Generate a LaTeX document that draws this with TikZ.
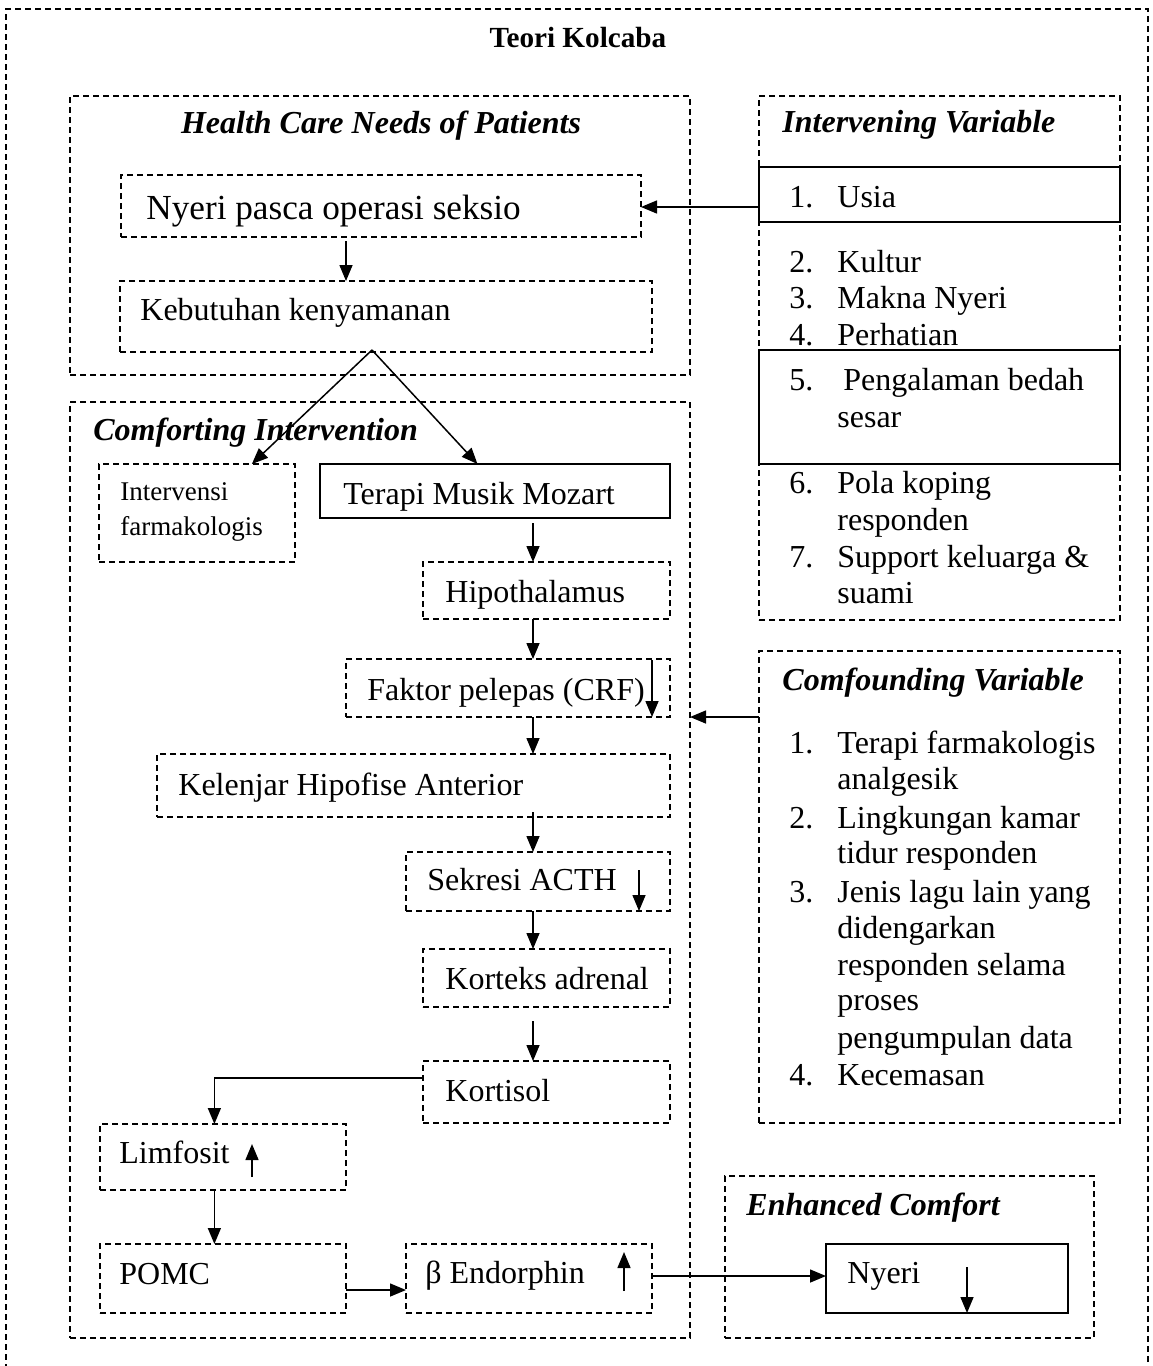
\documentclass[tikz,border=0pt]{standalone}
\usepackage{fontspec}
\setmainfont{Liberation Serif}
\usetikzlibrary{arrows.meta,fit,calc}
\newcommand\bodyfont{\fontsize{16}{18.4}\selectfont}
\newcommand\bigbodyfont{\fontsize{17.6}{20}\selectfont}
\newcommand\smallbodyfont{\fontsize{13.5}{16}\selectfont}
\newcommand\headfont{\fontsize{16}{18.4}\selectfont\bfseries\itshape}
\newcommand\titlefont{\fontsize{14.6}{17}\selectfont\bfseries}
\begin{document}
\begin{tikzpicture}[x=0.5pt,y=-0.5pt,
  dbox/.style={draw, line width=0.7pt, dash pattern=on 3pt off 2pt, inner sep=0pt, outer sep=0pt},
  sbox/.style={draw, line width=1pt, inner sep=0pt, outer sep=0pt},
  txt/.style={anchor=base west, inner sep=0pt, font=\bodyfont},
  hd/.style={anchor=base west, inner sep=0pt, font=\headfont},
  arr/.style={-{Triangle[length=8pt,width=6.5pt]}, line width=0.75pt}]
\useasboundingbox (0,0) rectangle (1152,1366);

% outer frame
\node[dbox, fit={(6,9)(1148,1390)}] (outer) {};
\node[anchor=base, inner sep=0pt, font=\titlefont] (title) at (578,47) {Teori Kolcaba};

% Health care needs
\node[dbox, fit={(70,96)(690,375)}] (hcn) {};
\node[anchor=base, inner sep=0pt, font=\headfont] (hcnh) at (381,133) {Health Care Needs of Patients};
\node[dbox, fit={(121,175)(641,237)}] (nps) {};
\node[txt, font=\bigbodyfont] (npst) at (146,219) {Nyeri pasca operasi seksio};
\node[dbox, fit={(120,281)(652,352)}] (keb) {};
\node[txt] (kebt) at (140,320) {Kebutuhan kenyamanan};
\coordinate (kebapex) at (372,350);

% Intervening variable
\node[dbox, fit={(759,96)(1120,620)}] (iv) {};
\node[hd] (ivh) at (782,132) {Intervening Variable};
\node[sbox, fit={(759,167)(1120,222)}] (usia) {};
\node[sbox, fit={(759,350)(1120,464)}] (peng) {};
\foreach \n/\y [count=\i] in {1./207,2./272,3./308,4./345,5./390,6./493,7./567}
  \node[txt] (ivn\i) at (789,\y) {\n};
\foreach \t/\y [count=\i] in {Usia/207,Kultur/272,Makna Nyeri/308,Perhatian/345,responden/530,Support keluarga \&/567,suami/603,sesar/427,Pola koping/493}
  \node[txt] (ivt\i) at (837,\y) {\t};
\node[txt] (ivt10) at (843,390) {Pengalaman bedah};

% Confounding variable
\node[dbox, fit={(759,651)(1120,1123)}] (cv) {};
\node[hd] (cvh) at (782,690) {Comfounding Variable};
\foreach \n/\y [count=\i] in {1./753,2./828,3./902,4./1085}
  \node[txt] (cvn\i) at (789,\y) {\n};
\foreach \t/\y [count=\i] in {Terapi farmakologis/753,analgesik/789,Lingkungan kamar/828,tidur responden/863,Jenis lagu lain yang/902,didengarkan/938,responden selama/975,proses/1010,pengumpulan data/1048,Kecemasan/1085}
  \node[txt] (cvt\i) at (837,\y) {\t};

% Comforting intervention
\node[dbox, fit={(70,402)(690,1338)}] (ci) {};
\node[hd] (cih) at (93,440) {Comforting Intervention};
\node[dbox, fit={(99,464)(295,562)}] (ifa) {};
\node[txt, font=\smallbodyfont] (ifat1) at (120,500) {Intervensi};
\node[txt, font=\smallbodyfont] (ifat2) at (120,535) {farmakologis};
\node[sbox, fit={(320,464)(670,518)}] (tmm) {};
\node[txt] (tmmt) at (343,504) {Terapi Musik Mozart};
\node[dbox, fit={(423,562)(670,619)}] (hipo) {};
\node[txt] (hipot) at (445,602) {Hipothalamus};
\node[dbox, fit={(346,659)(670,717)}] (crf) {};
\node[txt] (crft) at (367,700) {Faktor pelepas (CRF)};
\node[dbox, fit={(157,754)(670,817)}] (kha) {};
\node[txt] (khat) at (178,795) {Kelenjar Hipofise Anterior};
\node[dbox, fit={(406,852)(670,911)}] (acth) {};
\node[txt] (actht) at (427,890) {Sekresi ACTH};
\node[dbox, fit={(423,949)(670,1007)}] (kort) {};
\node[txt] (kortt) at (445,989) {Korteks adrenal};
\node[dbox, fit={(423,1061)(670,1123)}] (kti) {};
\node[txt] (ktit) at (445,1101) {Kortisol};
\node[dbox, fit={(100,1124)(346,1190)}] (limf) {};
\node[txt] (limft) at (119,1163) {Limfosit};
\node[dbox, fit={(100,1244)(346,1313)}] (pomc) {};
\node[txt] (pomct) at (119,1284) {POMC};
\node[dbox, fit={(406,1244)(652,1313)}] (bend) {};
\node[txt] (bendt) at (425,1283) {β Endorphin};

% Enhanced comfort
\node[dbox, fit={(725,1176)(1094,1338)}] (ec) {};
\node[hd] (ech) at (746,1215) {Enhanced Comfort};
\node[sbox, fit={(826,1244)(1068,1313)}] (ny) {};
\node[txt] (nyt) at (847,1283) {Nyeri};

% spine for the vertical chain
\coordinate (sp) at (533,0);

% connectors
\draw[arr] (usia.west |- 0,207) -- (nps.east |- 0,207);
\draw[arr] (nps.south -| 346,0) ++(0,4) -- (keb.north -| 346,0);
\draw[arr] (kebapex) -- ($(ifa.north west)!0.78!(ifa.north east)$);
\draw[arr] (kebapex) -- ($(tmm.north west)!0.45!(tmm.north east)$);
\draw[arr] ($(tmm.south -| sp)+(0,5)$) -- (hipo.north -| sp);
\draw[arr] (hipo.south -| sp) -- (crf.north -| sp);
\draw[arr] (crf.south -| sp) -- (kha.north -| sp);
\draw[arr] ($(kha.south -| sp)+(0,-5)$) -- (acth.north -| sp);
\draw[arr] (acth.south -| sp) -- (kort.north -| sp);
\draw[arr] ($(kort.south -| sp)+(0,14)$) -- (kti.north -| sp);
\draw[arr] (kti.west |- 0,1078) -| ($(limf.north west)!0.465!(limf.north east)$);
\draw[arr] ($(limf.south west)!0.465!(limf.south east)$) -- ($(pomc.north west)!0.465!(pomc.north east)$);
\draw[arr] (pomc.east |- 0,1290) -- (bend.west |- 0,1290);
\draw[arr] (bend.east |- 0,1276) -- (ny.west |- 0,1276);
\draw[arr] (cv.west |- 0,717) -- (ci.east |- 0,717);

% up/down indicator arrows inside boxes
\draw[arr] ($(crf.north east)+(-18,1)$) -- ($(crf.south east)+(-18,0)$);
\draw[arr] ($(acth.north east)+(-31,18)$) -- ($(acth.south east)+(-31,0)$);
\draw[arr] (252,1177) -- (252,1144);
\draw[arr] (624,1291) -- (624,1252);
\draw[arr] ($(ny.north west)+(141,23)$) -- ($(ny.south west)+(141,0)$);
\end{tikzpicture}
\end{document}
